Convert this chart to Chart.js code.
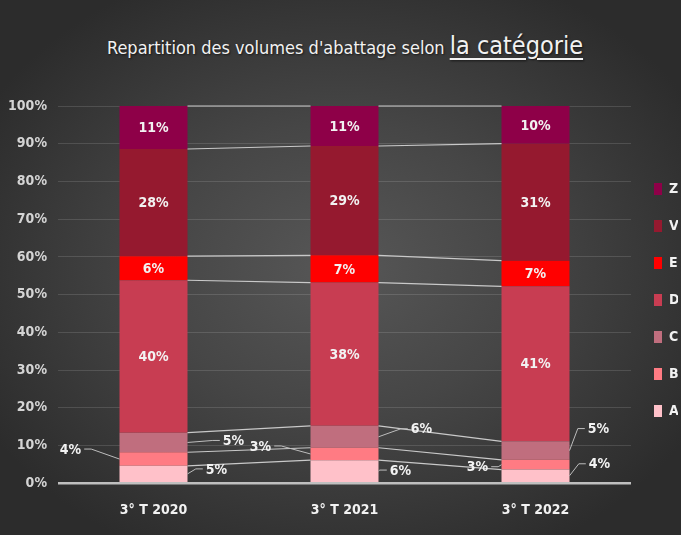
<!DOCTYPE html>
<html>
<head>
<meta charset="utf-8">
<script src="https://cdn.jsdelivr.net/npm/chart.js@4/dist/chart.umd.min.js"></script>
<style>
  html, body { margin: 0; padding: 0; }
  body { width: 681px; height: 535px; overflow: hidden; }
  #wrap {
    position: relative; width: 681px; height: 535px;
    background: radial-gradient(ellipse 60% 60% at 50% 50%, #575757 0%, #464646 45%, #2c2c2c 100%);
  }
  #titre {
    position: absolute; left: 0; top: 31px; width: 690px; text-align: center;
    color: #f2f2f2; font-family: 'Liberation Sans Narrow', 'DejaVu Sans Condensed', sans-serif;
    font-size: 18px; text-shadow: 1px 1px 2px rgba(0,0,0,0.6); white-space: nowrap;
  }
  #titre span { font-size: 25px; text-decoration: underline; text-underline-offset: 4px; text-decoration-thickness: 2px; }
  canvas { position: absolute; left: 0; top: 0; }
</style>
</head>
<body>
<div id="wrap">
  <div id="titre">Repartition des volumes d'abattage selon <span>la catégorie</span></div>
  <canvas id="graphique" width="681" height="535"></canvas>
</div>
<script>
// donnees (en %)
const periodes = ['3° T 2020', '3° T 2021', '3° T 2022'];
const categories = ['A', 'B', 'C', 'D', 'E', 'V', 'Z'];
const valA = [4.6, 6.1, 3.6];
const valB = [3.6, 3.3, 2.6];
const valC = [5.2, 5.8, 4.9];
const valD = [40.4, 38.0, 41.1];
const valE = [6.4, 7.2, 6.8];
const valV = [28.4, 29.0, 31.0];
const valZ = [11.4, 10.6, 10.0];
const yTicks = [0, 10, 20, 30, 40, 50, 60, 70, 80, 90, 100];

const couleurs = ['#ffc1c9', '#ff7b83', '#c06e7e', '#c83d52', '#ff0000', '#95192f', '#8e0048'];
const POLICE = "'Liberation Sans Narrow', 'DejaVu Sans Condensed', sans-serif";

// etiquettes exterieures (decalage par rapport au bord de la barre)
const bulles = {
    A: [[29, -5], [22, -1], [30, -12]],
    B: [[-49, -10], [-50, -8], [-24, 2]],
    C: [[46, -2], [43, -8], [29, -22]]
};

const series = [valA, valB, valC, valD, valE, valV, valZ];

// lignes de series + etiquettes
const pluginEtiquettes = {
    id: 'etiquettes',
    afterDatasetsDraw(chart) {
        const ctx = chart.ctx;
        ctx.save();
        // lignes de series entre les barres
        ctx.strokeStyle = '#c9c9c9';
        ctx.lineWidth = 1.2;
        chart.data.datasets.forEach((ds, i) => {
            const bars = chart.getDatasetMeta(i).data;
            for (let j = 0; j < bars.length - 1; j++) {
                const b1 = bars[j], b2 = bars[j + 1];
                ctx.beginPath();
                ctx.moveTo(b1.x + b1.width / 2, b1.y);
                ctx.lineTo(b2.x - b2.width / 2, b2.y);
                ctx.stroke();
            }
        });
        ctx.font = 'bold 14px ' + POLICE;
        ctx.textAlign = 'center';
        ctx.textBaseline = 'middle';
        chart.data.datasets.forEach((ds, i) => {
            const bars = chart.getDatasetMeta(i).data;
            bars.forEach((b, j) => {
                const txt = Math.round(ds.data[j]) + '%';
                const milieu = (b.y + b.base) / 2;
                const off = bulles[ds.label];
                if (!off) {
                    ctx.fillStyle = '#f2f2f2';
                    ctx.fillText(txt, b.x, milieu + 1);
                    return;
                }
                const dx = off[j][0], dy = off[j][1];
                const sens = dx > 0 ? 1 : -1;
                const ax = b.x + sens * b.width / 2;
                const lx = ax + dx, ly = milieu + dy;
                const tw = ctx.measureText(txt).width;
                const bord = lx - sens * (tw / 2 + 3);
                ctx.strokeStyle = '#bdbdbd';
                ctx.lineWidth = 1;
                ctx.beginPath();
                ctx.moveTo(ax, milieu);
                ctx.lineTo(bord - sens * 7, ly);
                ctx.lineTo(bord, ly);
                ctx.stroke();
                ctx.fillStyle = '#f2f2f2';
                ctx.fillText(txt, lx, ly + 1);
            });
        });
        ctx.restore();
    }
};

new Chart(document.getElementById('graphique'), {
    type: 'bar',
    data: {
        labels: periodes,
        datasets: categories.map((c, i) => ({
            label: c,
            data: series[i],
            backgroundColor: couleurs[i],
            borderWidth: 0
        }))
    },
    options: {
        responsive: false,
        animation: false,
        layout: { padding: { top: 106, left: 0, right: 3, bottom: -3 } },
        datasets: { bar: { barPercentage: 0.356, categoryPercentage: 1 } },
        scales: {
            x: {
                stacked: true,
                grid: { display: false, drawTicks: false },
                border: { display: false },
                ticks: { color: '#f2f2f2', padding: 19, font: { family: POLICE, size: 14, weight: 'bold' } }
            },
            y: {
                stacked: true,
                min: 0, max: 100,
                afterFit(s) { s.width = 58; },
                afterBuildTicks(s) { s.ticks = yTicks.map(v => ({ value: v })); },
                grid: {
                    drawTicks: false,
                    color: c => c.tick && c.tick.value === 0 ? '#bfbfbf' : 'rgba(255,255,255,0.13)',
                    lineWidth: c => c.tick && c.tick.value === 0 ? 2.5 : 1
                },
                border: { display: false },
                ticks: {
                    color: '#d4d4d4', padding: 11,
                    font: { family: POLICE, size: 14, weight: 'bold' },
                    callback: v => v + '%'
                }
            }
        },
        plugins: {
            legend: {
                position: 'right',
                reverse: true,
                align: 'start',
                maxWidth: 47,
                title: { display: true, text: '', font: { size: 10 }, padding: { top: 41, bottom: 0 } },
                labels: {
                    boxWidth: 8, boxHeight: 12, padding: 23, color: '#f2f2f2',
                    font: { family: POLICE, size: 14, weight: 'bold' }
                }
            },
            tooltip: { enabled: false }
        }
    },
    plugins: [pluginEtiquettes]
});
</script>
</body>
</html>
